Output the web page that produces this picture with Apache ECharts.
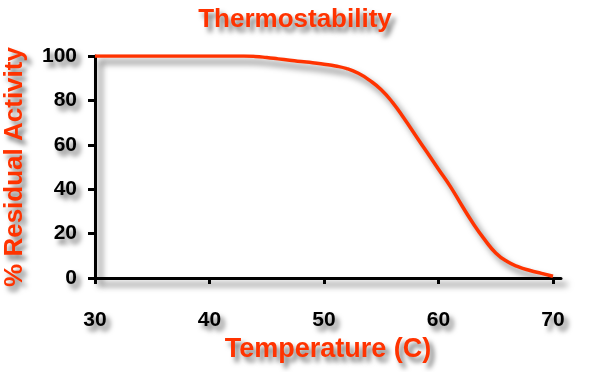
<!DOCTYPE html>
<html>
<head>
<meta charset="utf-8">
<script src="https://cdn.jsdelivr.net/npm/echarts@6/dist/echarts.min.js"></script>
<style>
  html, body { margin: 0; padding: 0; background: #fff; }
  #chart { width: 590px; height: 372px; }
</style>
</head>
<body>
<div id="chart"></div>
<script>
const temperatures = [30, 31, 32, 33, 34, 35, 36, 37, 38, 39, 40, 41, 42, 43, 44, 45, 46, 47, 48, 49,
    50, 51, 52, 53, 54, 55, 56, 57, 58, 59, 60, 61, 62, 63, 64, 65, 66, 67, 68, 69, 70];
const activity = [100, 100, 100, 100, 100, 100, 100, 100, 100, 100, 100, 100, 100, 100, 99.8, 99.3, 98.7, 98.1, 97.5, 97,
    96.3, 95.5, 94.3, 92.2, 89, 84.8, 79, 71.8, 64.2, 56.6, 49, 41.5, 33, 24.8, 17.5, 11.3, 7.4, 5, 3.4, 2.1, 0.8];
const xTicks = [30, 40, 50, 60, 70];
const yTicks = [0, 20, 40, 60, 80, 100];

const ORANGE = '#ff3300';
const shadow = { textShadowColor: 'rgba(0,0,0,0.55)', textShadowBlur: 5, textShadowOffsetX: 4, textShadowOffsetY: 5 };
const lineShadow = { shadowColor: 'rgba(0,0,0,0.55)', shadowBlur: 6, shadowOffsetX: 5, shadowOffsetY: 6 };
const font = 'Liberation Sans, Arial, sans-serif';

const chart = echarts.init(document.getElementById('chart'));
chart.setOption({
    backgroundColor: '#fff',
    animation: false,
    title: {
        text: 'Thermostability',
        left: 'center',
        top: 2,
        textStyle: { color: ORANGE, fontSize: 26, fontWeight: 'bold', fontFamily: font, ...shadow }
    },
    grid: { left: 95, right: 29, top: 56, bottom: 94, outerBoundsMode: 'none' },
    xAxis: {
        type: 'value',
        min: 30, max: 70.7,
        name: 'Temperature (C)',
        nameLocation: 'middle',
        nameGap: 58,
        nameTextStyle: { color: ORANGE, fontSize: 27, fontWeight: 'bold', fontFamily: font, ...shadow },
        splitLine: { show: false },
        axisLine: { lineStyle: { color: '#000', width: 3, ...lineShadow } },
        axisTick: { customValues: xTicks, length: 6, lineStyle: { color: '#000', width: 3 } },
        axisLabel: { customValues: xTicks, margin: 32, color: '#000', fontSize: 21, fontWeight: 'bold', fontFamily: font, ...shadow }
    },
    yAxis: {
        type: 'value',
        min: 0, max: 100,
        name: '% Residual Activity',
        nameLocation: 'middle',
        nameGap: 67,
        nameTextStyle: { color: ORANGE, fontSize: 26, fontWeight: 'bold', fontFamily: font, ...shadow },
        splitLine: { show: false },
        axisLine: { lineStyle: { color: '#000', width: 3, ...lineShadow } },
        axisTick: { customValues: yTicks, length: 7, lineStyle: { color: '#000', width: 3 } },
        axisLabel: { customValues: yTicks, margin: 18, color: '#000', fontSize: 21, fontWeight: 'bold', fontFamily: font, ...shadow }
    },
    series: [{
        type: 'line',
        data: temperatures.map((t, i) => [t, activity[i]]),
        smooth: 0.5,
        symbol: 'none',
        lineStyle: { color: ORANGE, width: 3.5, ...lineShadow }
    }]
});
</script>
</body>
</html>
